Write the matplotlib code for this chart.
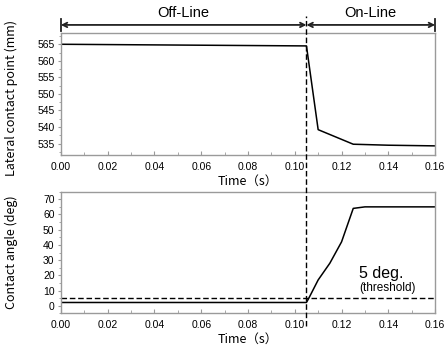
"""
Off-line / on-line contact point and contact angle chart.
"""

import matplotlib
matplotlib.use('Agg')
import matplotlib.pyplot as plt
from matplotlib.lines import Line2D
from matplotlib.ticker import MultipleLocator
from matplotlib.transforms import blended_transform_factory

plt.rcParams['font.family'] = ['Liberation Sans', 'DejaVu Sans']
LABEL_FONT = ['Noto Sans CJK JP', 'DejaVu Sans']

# switch time between off-line and on-line
t_switch = 0.105

# lateral contact point (mm)
t_lat = [0.0, 0.105, 0.110, 0.125, 0.140, 0.160]
lat = [565.0, 564.5, 539.2, 534.8, 534.5, 534.3]

# contact angle (deg)
t_ang = [0.0, 0.105, 0.106, 0.110, 0.115, 0.120, 0.125, 0.130, 0.160]
ang = [2.2, 2.2, 5.0, 17.0, 28.0, 42.0, 64.0, 65.0, 65.0]

threshold = 5.0

x_ticks = [0.00, 0.02, 0.04, 0.06, 0.08, 0.10, 0.12, 0.14, 0.16]
x_ticklabels = ['0.00', '0.02', '0.04', '0.06', '0.08', '0.10', '0.12', '0.14', '0.16']
lat_ticks = [535, 540, 545, 550, 555, 560, 565]
ang_ticks = [0, 10, 20, 30, 40, 50, 60, 70]

SPINE = '#9a9a9a'

fig = plt.figure(figsize=(4.44, 3.51), dpi=100)
ax1 = fig.add_axes([0.137, 0.558, 0.843, 0.347])
ax2 = fig.add_axes([0.137, 0.107, 0.843, 0.347])


def style_axis(ax):
    for s in ax.spines.values():
        s.set_color(SPINE)
        s.set_linewidth(1.0)
    ax.set_xlim(0, 0.16)
    ax.set_xticks(x_ticks)
    ax.set_xticklabels(x_ticklabels)
    ax.xaxis.set_minor_locator(MultipleLocator(0.01))
    ax.tick_params(axis='x', which='both', direction='in', color=SPINE, labelsize=7.5, pad=5)
    ax.tick_params(axis='x', which='major', length=3)
    ax.tick_params(axis='x', which='minor', length=2)
    ax.tick_params(axis='y', which='both', direction='out', color=SPINE, labelsize=7.5, pad=2)
    ax.tick_params(axis='y', which='major', length=2.5)
    ax.tick_params(axis='y', which='minor', length=1.5)
    ax.set_xlabel('Time（s）', fontsize=9, labelpad=2, family=LABEL_FONT)


# top panel
ax1.plot(t_lat, lat, color='black', linewidth=1.1)
style_axis(ax1)
ax1.set_ylim(531.5, 568.3)
ax1.set_yticks(lat_ticks)
ax1.yaxis.set_minor_locator(MultipleLocator(2.5))
ax1.set_ylabel('Lateral contact point (mm)', fontsize=9, family=LABEL_FONT)
ax1.yaxis.set_label_coords(-0.115, 0.47)

# bottom panel
ax2.plot(t_ang, ang, color='black', linewidth=1.1)
ax2.axhline(threshold, color='black', linewidth=1.0, linestyle=(0, (4, 2)))
style_axis(ax2)
ax2.set_ylim(-5, 75)
ax2.set_yticks(ang_ticks)
ax2.yaxis.set_minor_locator(MultipleLocator(5))
ax2.set_ylabel('Contact angle (deg)', fontsize=9, family=LABEL_FONT)
ax2.yaxis.set_label_coords(-0.115, 0.5)
ax2.text(0.137, 21.5, '5 deg.', fontsize=11.5, ha='center', va='center')
ax2.text(0.1395, 11.5, '(threshold)', fontsize=8.5, ha='center', va='center')

# dashed switch line across both panels
trans = blended_transform_factory(ax1.transData, fig.transFigure)
fig.add_artist(Line2D([t_switch, t_switch], [0.07, 0.955], transform=trans,
                      color='black', linewidth=1.0, linestyle=(0, (4, 2))))

# off-line / on-line arrows
arrow_y = 0.929
for x0, x1, label in [(0.0, t_switch, 'Off-Line'), (t_switch, 0.16, 'On-Line')]:
    ax1.annotate('', xy=(x1, arrow_y), xytext=(x0, arrow_y),
                 xycoords=trans, textcoords=trans,
                 arrowprops=dict(arrowstyle='<->', color='#222222', lw=1.3,
                                 shrinkA=0, shrinkB=0, mutation_scale=8))
    fig.text(trans.transform(((x0 + x1) / 2, 0))[0] / fig.bbox.width, 0.963, label,
             fontsize=10.5, ha='center', va='center')
for xe in [0.0, 0.16]:
    fig.add_artist(Line2D([xe, xe], [0.912, 0.946], transform=trans,
                          color='#222222', linewidth=1.3))

fig.savefig('out.png', dpi=100)
